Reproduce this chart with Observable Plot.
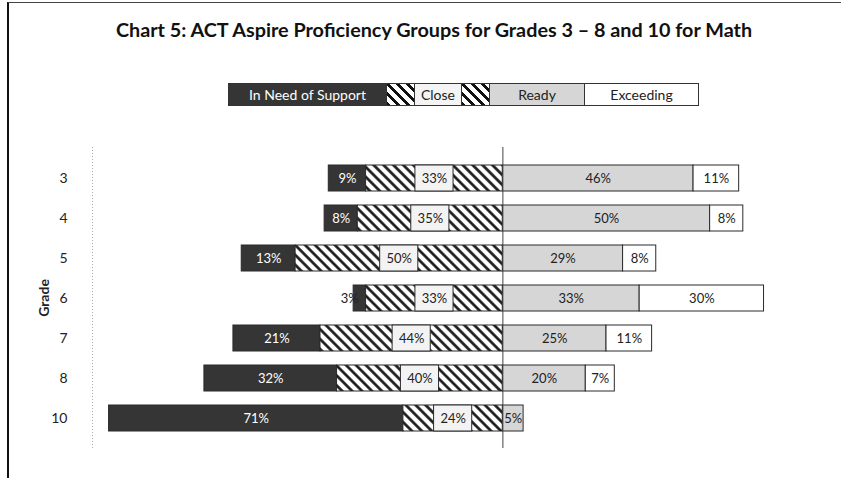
<!DOCTYPE html>
<html>
<head>
<meta charset="utf-8">
<script src="https://cdn.jsdelivr.net/npm/d3@7"></script>
<script src="https://cdn.jsdelivr.net/npm/@observablehq/plot@0.6"></script>
<style>
  html, body { margin: 0; padding: 0; background: #fff; }
  body { width: 841px; height: 478px; position: relative; overflow: hidden; font-family: Lato, "Open Sans", sans-serif; }
  #frame { position: absolute; left: 7px; top: 2px; right: 0; bottom: 0; border-left: 2px solid #111; border-top: 1.5px solid #444; }
  #title { position: absolute; top: 17px; left: 434px; transform: translateX(-50%); white-space: nowrap; font-weight: bold; font-size: 19.8px; color: #111; }
  #legend { position: absolute; top: 83px; left: 228px; height: 21px; display: flex; border: 1px solid #333; font-size: 14px; }
  #legend div { height: 21px; line-height: 21px; text-align: center; box-sizing: border-box; color: #222; }
  .hatch { background: repeating-linear-gradient(45deg, #111 0 2.5px, #fff 2.5px 7px); }
  #chart { position: absolute; left: 0; top: 140px; }
</style>
</head>
<body>
<div id="frame"></div>
<div id="title">Chart 5: ACT Aspire Proficiency Groups for Grades 3 – 8 and 10 for Math</div>
<div id="legend"></div>
<svg width="0" height="0" style="position:absolute">
  <defs>
    <pattern id="hatch" patternUnits="userSpaceOnUse" width="7" height="7" patternTransform="rotate(-45)">
      <rect width="7" height="7" fill="#fff"></rect>
      <line x1="1.5" y1="0" x2="1.5" y2="7" stroke="#111" stroke-width="2.6"></line>
    </pattern>
  </defs>
</svg>
<div id="chart"></div>
<script>
const grades = ["3", "4", "5", "6", "7", "8", "10"];
const categories = ["In Need of Support", "Close", "Ready", "Exceeding"];
const needSupport = [9, 8, 13, 3, 21, 32, 71];
const closeVals = [33, 35, 50, 33, 44, 40, 24];
const readyVals = [46, 50, 29, 33, 25, 20, 5];
const exceedingVals = [11, 8, 8, 30, 11, 7, 0];

const colors = {
  "In Need of Support": "#353535",
  "Close": "url(#hatch)",
  "Ready": "#d6d6d6",
  "Exceeding": "#ffffff"
};

// Legend (HTML)
const legendItems = [
  {label: "In Need of Support", w: 157, bg: "#353535", color: "#fff"},
  {label: "", w: 28, hatch: true},
  {label: "Close", w: 47, bg: "#f4f4f4", color: "#222"},
  {label: "", w: 28, hatch: true},
  {label: "Ready", w: 95, bg: "#d6d6d6", color: "#222"},
  {label: "Exceeding", w: 114, bg: "#fff", color: "#222"}
];
const legend = document.getElementById("legend");
legendItems.forEach((it, i) => {
  const d = document.createElement("div");
  d.style.width = it.w + "px";
  if (it.hatch) d.className = "hatch"; else d.style.background = it.bg;
  if (it.color) d.style.color = it.color;
  if (i > 0) d.style.borderLeft = "1px solid #333";
  d.textContent = it.label;
  legend.appendChild(d);
});

// Segments
const segs = [];
grades.forEach((g, i) => {
  const n = needSupport[i], c = closeVals[i], r = readyVals[i], e = exceedingVals[i];
  segs.push({grade: g, category: "In Need of Support", value: n, x1: -(c + n), x2: -c});
  segs.push({grade: g, category: "Close", value: c, x1: -c, x2: 0});
  segs.push({grade: g, category: "Ready", value: r, x1: 0, x2: r});
  segs.push({grade: g, category: "Exceeding", value: e, x1: r, x2: r + e});
});
const shown = segs.filter(d => d.value > 0);
const mid = d => (d.x1 + d.x2) / 2;
const lbl = d => d.value + "%";
const closeSegs = shown.filter(d => d.category === "Close");
const needBig = shown.filter(d => d.category === "In Need of Support" && d.value >= 5);
const needSmall = shown.filter(d => d.category === "In Need of Support" && d.value < 5);
const rightSegs = shown.filter(d => d.category === "Ready" || d.category === "Exceeding");
const boxHalf = 4.6;

const plot = Plot.plot({
  width: 841,
  height: 330,
  marginLeft: 92,
  marginRight: 7,
  marginTop: 7,
  marginBottom: 22,
  style: {fontFamily: "Lato, 'Open Sans', sans-serif", fontSize: "13px", color: "#222", background: "transparent"},
  x: {domain: [-99, 80], axis: null},
  y: {domain: grades, padding: 0.36},
  marks: [
    Plot.ruleX([-99], {stroke: "#aaa", strokeDasharray: "1,2", strokeWidth: 1}),
    ...categories.map(cat => Plot.barX(shown.filter(d => d.category === cat), {
      y: "grade", x1: "x1", x2: "x2", fill: colors[cat], stroke: "#2a2a2a", strokeWidth: 1
    })),
    Plot.barX(closeSegs, {y: "grade", x1: d => mid(d) - boxHalf, x2: d => mid(d) + boxHalf, fill: "#f3f3f3", stroke: "#2a2a2a", strokeWidth: 1}),
    Plot.ruleX([0], {stroke: "#444", strokeWidth: 1}),
    Plot.text(needBig, {y: "grade", x: mid, text: lbl, fill: "#fff", fontSize: 13}),
    Plot.text(needSmall, {y: "grade", x: "x1", text: lbl, fill: "#222", fontSize: 13, textAnchor: "end", dx: 5}),
    Plot.text(closeSegs, {y: "grade", x: mid, text: lbl, fill: "#222", fontSize: 13}),
    Plot.text(rightSegs, {y: "grade", x: mid, text: lbl, fill: "#222", fontSize: 13}),
    Plot.axisY({tickSize: 0, tickPadding: 25, fontSize: 14, label: "Grade", labelAnchor: "center", labelArrow: "none", labelOffset: 53})
  ]
});
document.getElementById("chart").appendChild(plot);
d3.select(plot).selectAll('[aria-label="y-axis label"] text').style("font-weight", "bold").style("font-size", "14px");
</script>
</body>
</html>
